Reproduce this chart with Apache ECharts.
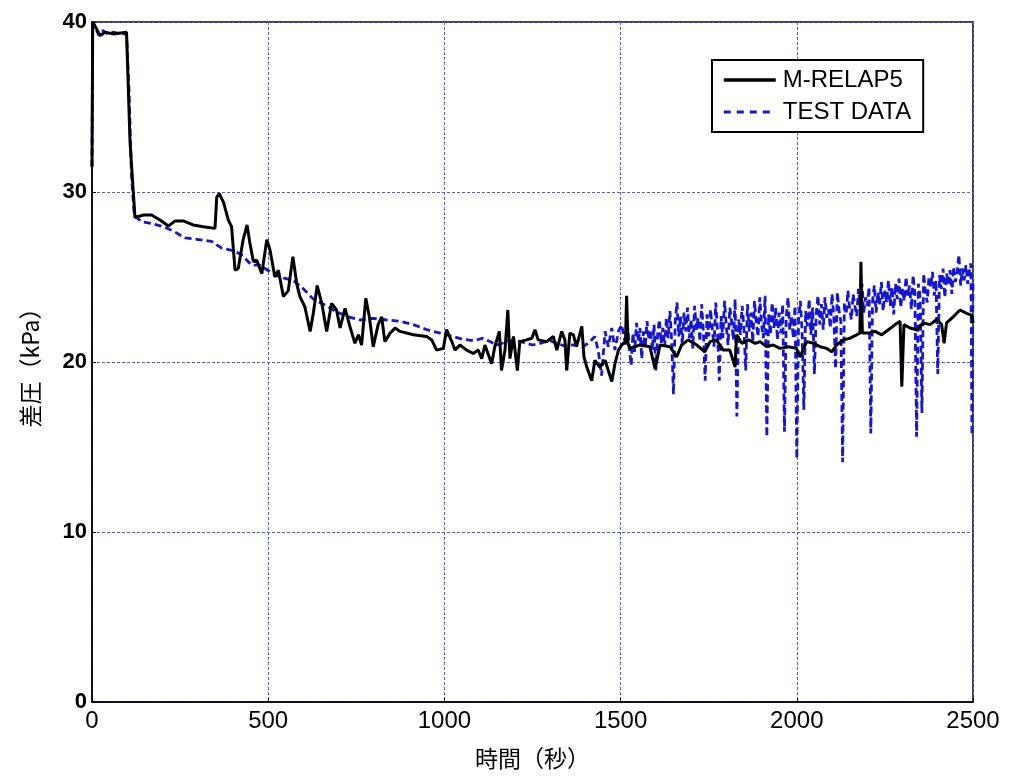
<!DOCTYPE html>
<html>
<head>
<meta charset="utf-8">
<script src="https://cdn.jsdelivr.net/npm/echarts@6/dist/echarts.min.js"></script>
<style>html,body{margin:0;padding:0;background:#fff}#c{width:1011px;height:782px}</style>
</head>
<body>
<div id="c"></div>
<script>
const xTicks = [0, 500, 1000, 1500, 2000, 2500];
const yTicks = [0, 10, 20, 30, 40];
const seriesNames = ['M-RELAP5', 'TEST DATA'];

const relapTime = [0,2,10,23,37,60,98,108,122,146,169,193,217,236,259,287,316,349,354,361,373,387,396,406,415,429,440,448,458,467,482,496,505,519,529,543,557,570,581,590,604,619,628,639,652,666,680,694,704,718,732,746,756,765,777,787,798,812,822,831,846,860,874,912,950,964,978,997,1006,1021,1030,1044,1063,1082,1096,1106,1115,1134,1143,1156,1162,1172,1180,1186,1196,1207,1214,1233,1248,1257,1266,1290,1309,1319,1333,1342,1347,1356,1366,1375,1390,1396,1404,1418,1427,1441,1456,1465,1475,1484,1494,1503,1514,1517,1521,1526,1555,1583,1598,1612,1640,1659,1673,1692,1716,1739,1754,1772,1791,1810,1825,1829,1844,1863,1882,1896,1914,1933,1952,1976,1999,2009,2028,2047,2066,2085,2099,2113,2132,2151,2170,2179,2182,2186,2203,2222,2241,2260,2279,2293,2298,2304,2321,2340,2359,2378,2397,2411,2418,2425,2444,2463,2482,2496,2500];
const relapValue = [31.5,40.0,39.7,39.2,39.4,39.3,39.4,32.9,28.5,28.65,28.65,28.35,28.0,28.3,28.3,28.06,27.96,27.86,29.7,29.9,29.4,28.35,27.96,25.4,25.5,27.2,28.06,27.0,25.9,26.0,25.2,27.2,26.6,25.0,25.4,23.85,24.2,26.2,24.6,23.85,23.25,21.8,22.86,24.5,23.45,21.8,23.45,23.06,22.0,23.16,22.08,21.1,21.6,21.0,23.75,22.66,20.9,22.2,22.66,21.2,21.7,22.0,21.8,21.6,21.5,21.3,20.7,20.8,21.9,21.2,20.7,21.0,20.7,20.5,20.7,20.2,21.0,19.9,20.9,21.8,19.5,20.7,23.06,20.2,21.5,19.5,21.2,21.3,21.4,21.9,21.3,21.2,21.5,20.7,21.8,21.3,19.5,21.7,21.6,20.9,22.1,20.3,19.7,18.9,20.1,19.7,20.1,19.5,18.85,19.9,20.7,21.0,21.2,23.9,21.1,20.8,21.0,20.9,19.6,21.0,20.9,20.3,21.0,21.3,21.0,20.6,21.2,21.3,20.7,20.7,19.7,21.6,21.1,21.3,21.1,21.2,20.9,21.0,20.8,20.9,20.8,20.3,21.2,21.1,20.9,20.8,20.6,21.0,21.3,21.4,21.6,21.7,25.9,21.7,21.7,21.8,21.6,21.9,22.2,22.4,18.55,22.2,22.0,21.9,22.3,22.2,22.5,22.2,21.1,22.3,22.66,23.06,22.86,22.76,22.3];

const testTime = [0,2,10,20,30,45,60,80,98,105,112,120,141,169,202,231,264,302,339,368,401,425,453,477,505,533,571,600,628,661,694,727,761,798,836,874,912,950,988,1025,1050,1082,1110,1129,1150,1177,1200,1224,1250,1271,1300,1319,1340,1366,1394,1413,1427,1437,1446,1456,1465,1475,1484,1494,1503,1510,
1515,1520,1525,1530,1535,1540,1545,1550,1555,1560,1565,1570,1575,1580,1585,1590,1595,1600,1605,1610,1615,1620,1625,1630,1635,1640,1645,1650,1655,1660,1665,1670,1675,1680,1685,1690,1695,1700,1705,1710,1715,1720,1725,1730,1735,1740,1745,1750,1755,1760,1765,1770,1775,1780,1785,1790,1795,1800,1805,1810,1815,1820,1825,1830,1835,1840,1845,1850,1855,1860,1865,1870,1875,1880,1885,1890,1895,1900,1905,1910,1915,1920,1925,1930,1935,1940,1945,1950,1955,1960,1965,1970,1975,1980,1985,1990,1995,2000,2005,2010,2015,2020,2025,2030,2035,2040,2045,2050,2055,2060,2065,2070,2075,2080,2085,2090,2095,2100,2105,2110,2115,2120,2125,2130,2135,2140,2145,2150,2155,2160,2165,2170,2175,2180,2185,2190,2195,2200,2205,2210,2215,2220,2225,2230,2235,2240,2245,2250,2255,2260,2265,2270,2275,2280,2285,2290,2295,2300,2305,2310,2315,2320,2325,2330,2335,2340,2345,2350,2355,2360,2365,2370,2375,2380,2385,2390,2395,2400,2405,2410,2415,2420,2425,2430,2435,2440,2445,2450,2455,2460,2465,2470,2475,2480,2485,2490,2494,2497,2500];
const testValue = [31.5,40.0,39.6,39.2,39.5,39.3,39.4,39.3,39.3,36.0,31.0,28.6,28.25,28.15,27.96,27.7,27.3,27.2,27.1,26.7,26.55,26.3,25.7,25.7,25.3,25.0,24.8,24.3,23.7,23.35,22.95,22.66,22.47,22.57,22.47,22.4,22.2,21.9,21.7,21.5,21.35,21.25,21.4,21.2,21.0,21.2,21.3,21.15,21.0,21.1,21.25,21.1,20.95,21.0,20.9,21.2,21.5,20.6,19.2,21.8,20.9,22.0,20.7,21.8,22.2,21.4,
21.0,22.1,20.8,19.8,21.7,20.6,22.3,21.2,22.0,20.2,21.8,20.9,22.4,21.3,21.9,20.7,22.2,19.5,21.6,22.5,21.1,22.0,20.9,22.6,21.4,23.0,21.2,18.1,22.4,23.5,21.5,22.7,21.0,22.9,21.8,23.2,21.4,22.5,20.8,23.3,21.9,22.6,21.2,23.4,21.7,18.9,22.8,21.5,23.1,22.0,20.9,23.5,21.8,18.9,22.7,21.4,23.6,22.1,21.0,23.2,22.4,21.3,23.7,16.8,22.5,21.6,23.3,22.0,19.5,23.4,21.8,22.9,21.2,23.6,22.3,21.5,23.8,22.2,21.4,23.9,15.6,22.8,21.6,23.5,22.0,23.2,21.3,22.9,21.7,23.4,15.9,22.6,23.8,21.9,22.7,21.4,23.3,14.3,22.5,23.6,21.8,17.2,23.0,22.1,23.7,21.6,23.2,19.3,22.8,23.9,22.2,23.4,21.9,23.8,22.6,23.1,22.0,24.0,22.7,19.6,24.1,23.0,22.4,14.1,23.5,22.8,24.2,23.1,22.5,24.0,23.3,22.7,24.3,23.2,24.6,22.9,23.8,23.3,24.4,15.8,23.6,24.5,22.9,24.1,23.4,24.7,23.0,24.2,23.5,24.8,23.3,24.4,22.8,24.6,23.7,24.9,23.2,24.3,23.6,25.0,23.9,24.5,23.1,25.1,24.0,15.6,24.6,23.8,17.0,25.2,24.1,23.5,25.0,24.4,25.3,23.9,24.8,19.3,25.1,24.3,25.5,23.8,25.2,24.6,25.4,24.0,25.6,24.7,25.3,26.3,24.5,25.5,24.8,25.7,24.6,25.4,25.8,15.7,24.6];

const relapData = relapTime.map((t, i) => [t, relapValue[i]]);
const testData = testTime.map((t, i) => [t, testValue[i]]);

const latin = '"Liberation Sans", Arial, sans-serif';
const cjk = '"Noto Sans CJK JP", sans-serif';
const chart = echarts.init(document.getElementById('c'), null, {renderer: 'canvas'});
chart.setOption({
  animation: false,
  backgroundColor: '#fff',
  grid: {left: 92, top: 22, right: 38, bottom: 80, show: true, borderColor: '#000', borderWidth: 1.5, backgroundColor: 'transparent'},
  legend: {
    orient: 'vertical', left: 712, top: 60,
    data: [
      {name: seriesNames[0], lineStyle: {width: 3.5, color: '#000', type: 'solid'}},
      {name: seriesNames[1], lineStyle: {width: 3, color: '#1515d8', type: [7, 6]}}
    ],
    itemWidth: 52, itemHeight: 14, itemGap: 8,
    padding: [8, 12, 8, 10],
    itemStyle: {opacity: 0},
    backgroundColor: '#fff', borderColor: '#000', borderWidth: 2,
    textStyle: {fontSize: 24, color: '#000', fontFamily: latin, padding: [0, 0, 0, 2]}
  },
  xAxis: {
    type: 'value', min: 0, max: 2500, interval: 500,
    name: '時間（秒）', nameLocation: 'middle', nameGap: 45,
    nameTextStyle: {fontSize: 23, color: '#000', fontFamily: cjk},
    axisLine: {lineStyle: {color: '#000', width: 1.5}},
    axisTick: {inside: true, length: 4, lineStyle: {color: '#000'}},
    axisLabel: {fontSize: 24, color: '#000', margin: 7, fontFamily: latin, formatter: v => xTicks.includes(v) ? String(v) : ''},
    splitLine: {show: true, lineStyle: {color: '#5555dd', width: 1, type: [3, 2]}}
  },
  yAxis: {
    type: 'value', min: 0, max: 40, interval: 10,
    name: '差圧（kPa）', nameLocation: 'middle', nameGap: 50,
    nameTextStyle: {fontSize: 23, color: '#000', fontFamily: cjk},
    axisLine: {show: true, lineStyle: {color: '#000', width: 1.5}},
    axisTick: {show: true, inside: true, length: 4, lineStyle: {color: '#000'}},
    axisLabel: {fontSize: 22, fontWeight: 'bold', color: '#000', margin: 5, fontFamily: latin, formatter: v => yTicks.includes(v) ? String(v) : ''},
    splitLine: {show: true, lineStyle: {color: '#5555dd', width: 1, type: [3, 2]}}
  },
  series: [
    {name: seriesNames[0], type: 'line', data: relapData, symbol: 'none', showSymbol: false,
     lineStyle: {color: '#000', width: 3}, itemStyle: {color: '#000'}, z: 3},
    {name: seriesNames[1], type: 'line', data: testData, symbol: 'none', showSymbol: false,
     lineStyle: {color: '#1515d8', width: 2.8, type: [7, 4]}, itemStyle: {color: '#1515d8'}, z: 2}
  ]
});
</script>
</body>
</html>
